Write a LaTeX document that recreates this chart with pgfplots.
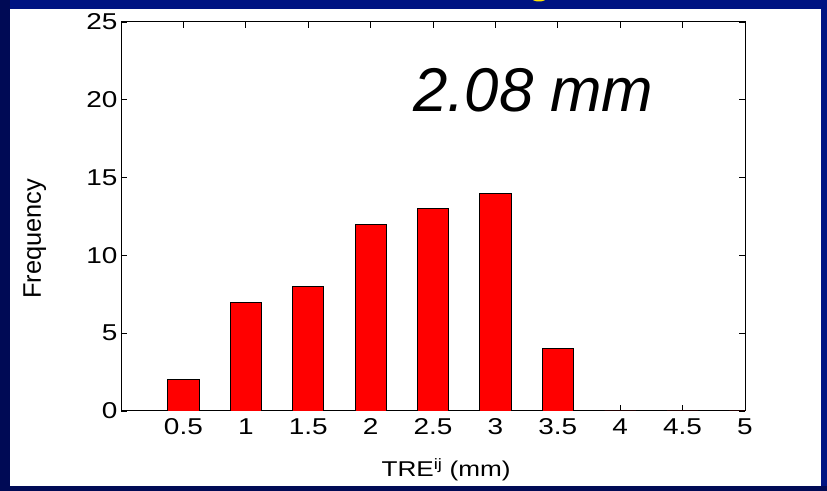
\documentclass[border=0pt]{standalone}
\usepackage{fontspec}
\setmainfont{Liberation Sans}
\newfontfamily\stretchsans[FakeStretch=1.22]{Liberation Sans}
\usepackage{pgfplots}
\pgfplotsset{compat=1.18}
\definecolor{navytop}{RGB}{0,20,130}
\definecolor{navyleft}{RGB}{0,10,85}
\definecolor{titleyellow}{RGB}{255,230,0}
\begin{document}
\begin{tikzpicture}[x=1bp,y=1bp]
\useasboundingbox (0,0) rectangle (827,491);
\begin{scope}
\clip (0,0) rectangle (827,491);
\fill[navytop] (0,0) rectangle (827,491);
\fill[navyleft] (0,0) rectangle (10,491);
\fill[navyleft] (0,0) rectangle (827,5);
\fill[titleyellow] (539,493) ellipse (7.5 and 3.5);
\end{scope}
\fill[white] (10,5) rectangle (821,482.3);
\begin{axis}[
  at={(121bp,80bp)}, anchor=south west,
  scale only axis, width=624bp, height=389bp,
  xmin=0, xmax=5, ymin=0, ymax=25,
  xtick={0.5,1,1.5,2,2.5,3,3.5,4,4.5,5},
  xticklabels={0.5,1,1.5,2,2.5,3,3.5,4,4.5,5},
  ytick={0,5,10,15,20,25},
  tick align=inside, major tick length=6bp,
  axis line style={line width=1bp},
  every tick/.style={black, line width=0.7bp},
  tick label style={font=\stretchsans\fontsize{23}{27}\selectfont},
  xticklabel style={yshift=-4bp},
  /pgf/number format/assume math mode=true,
  xlabel={TRE\textsuperscript{ij} (mm)},
  ylabel={Frequency},
  xlabel style={font=\stretchsans\fontsize{21.5}{25}\selectfont,
    at={(axis description cs:0.521,-0.169)}, anchor=base},
  ylabel style={font=\fontsize{25.5}{30}\selectfont,
    at={(axis description cs:-0.138,0.443)}, anchor=center},
  clip=true,
]
\addplot[ybar, bar width=0.25, fill=red, draw=black, line width=0.8bp]
  coordinates {(0.5,2) (1,7) (1.5,8) (2,12) (2.5,13) (3,14) (3.5,4) (4,0) (4.5,0) (5,0)};
\end{axis}
\node[anchor=base west, inner sep=0pt, font=\fontsize{62}{70}\selectfont\itshape] at (413,379) {2.08 mm};
\end{tikzpicture}
\end{document}
